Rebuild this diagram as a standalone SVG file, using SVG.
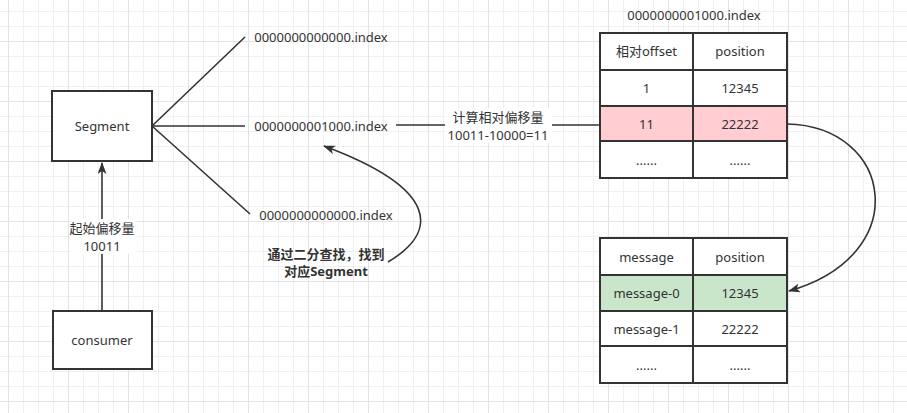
<svg xmlns="http://www.w3.org/2000/svg" width="907" height="413" viewBox="0 0 907 413">
<defs>
<pattern id="gMinor" x="8" y="11" width="15" height="15" patternUnits="userSpaceOnUse">
<rect x="0" y="0" width="1" height="15" fill="#f0f0f0"/>
<rect x="0" y="0" width="15" height="1" fill="#f0f0f0"/>
</pattern>
<pattern id="gMajor" x="8" y="41" width="60" height="60" patternUnits="userSpaceOnUse">
<rect x="0" y="0" width="1" height="60" fill="#e3e3e3"/>
<rect x="0" y="0" width="60" height="1" fill="#e3e3e3"/>
</pattern>
<marker id="arr" viewBox="0 0 12 9" refX="11" refY="4.5" markerWidth="12" markerHeight="9" orient="auto" markerUnits="userSpaceOnUse">
<path d="M12,4.5 L0,0 L3,4.5 L0,9 Z" fill="#333333"/>
</marker>
</defs>
<style>
text{font-family:"Noto Sans","Noto Sans CJK SC",sans-serif;font-size:13px;fill:#333333;text-anchor:middle;dominant-baseline:central}
.b{font-weight:bold}
.box{fill:#ffffff;stroke:#333333;stroke-width:2}
.cell{stroke:#333333;stroke-width:2}
.ln{fill:none;stroke:#333333;stroke-width:1.6}
</style>
<rect width="907" height="413" fill="#ffffff"/>
<rect width="907" height="413" fill="url(#gMinor)"/>
<rect width="907" height="413" fill="url(#gMajor)"/>

<g id="connectors">
<path class="ln" d="M152,126 L245,37"/>
<path class="ln" d="M152,126 L245,126"/>
<path class="ln" d="M152,126 L250,214"/>
<path class="ln" d="M396,125 L600,125"/>
<path class="ln" d="M102,311 L102,163" marker-end="url(#arr)"/>
<path class="ln" d="M787,124 C893,126 915,255 789,291" marker-end="url(#arr)"/>
<path class="ln" d="M388,262 C437,233 442,190 324,146" marker-end="url(#arr)"/>
<rect x="70" y="219" width="66" height="35" fill="#ffffff"/>
<text x="102" y="228">起始偏移量<tspan x="102" dy="18">10011</tspan></text>
<rect x="445" y="108" width="107" height="35" fill="#ffffff"/>
<text x="498" y="117">计算相对偏移量<tspan x="498" dy="18">10011-10000=11</tspan></text>
<text class="b" x="326" y="254">通过二分查找，找到<tspan x="326" dy="17">对应Segment</tspan></text>
</g>

<g id="segment">
<rect class="box" x="52" y="91" width="100" height="70"/>
<text x="102" y="126">Segment</text>
</g>
<g id="consumer">
<rect class="box" x="53" y="311" width="99" height="58"/>
<text x="102" y="340">consumer</text>
</g>

<g id="index0">
<text x="321" y="37">0000000000000.index</text>
</g>
<g id="index1000">
<text x="321" y="126">0000000001000.index</text>
</g>
<g id="index0b">
<text x="326" y="215">0000000000000.index</text>
</g>

<g id="indexTable">
<text x="694" y="15">0000000001000.index</text>
<rect class="cell" x="600" y="33" width="93" height="37" fill="#ffffff"/>
<rect class="cell" x="693" y="33" width="94" height="37" fill="#ffffff"/>
<rect class="cell" x="600" y="70" width="93" height="36" fill="#ffffff"/>
<rect class="cell" x="693" y="70" width="94" height="36" fill="#ffffff"/>
<rect class="cell" x="600" y="106" width="93" height="35" fill="#ffcdd2"/>
<rect class="cell" x="693" y="106" width="94" height="35" fill="#ffcdd2"/>
<rect class="cell" x="600" y="141" width="93" height="37" fill="#ffffff"/>
<rect class="cell" x="693" y="141" width="94" height="37" fill="#ffffff"/>
<text x="646.5" y="51">相对offset</text>
<text x="740" y="51">position</text>
<text x="646.5" y="88">1</text>
<text x="740" y="88">12345</text>
<text x="646.5" y="124">11</text>
<text x="740" y="124">22222</text>
<text x="646.5" y="160">......</text>
<text x="740" y="160">......</text>
</g>

<g id="logTable">
<rect class="cell" x="600" y="238" width="93" height="37" fill="#ffffff"/>
<rect class="cell" x="693" y="238" width="94" height="37" fill="#ffffff"/>
<rect class="cell" x="600" y="275" width="93" height="36" fill="#c9e6cb"/>
<rect class="cell" x="693" y="275" width="94" height="36" fill="#c9e6cb"/>
<rect class="cell" x="600" y="311" width="93" height="35" fill="#ffffff"/>
<rect class="cell" x="693" y="311" width="94" height="35" fill="#ffffff"/>
<rect class="cell" x="600" y="346" width="93" height="37" fill="#ffffff"/>
<rect class="cell" x="693" y="346" width="94" height="37" fill="#ffffff"/>
<text x="646.5" y="256.5">message</text>
<text x="740" y="256.5">position</text>
<text x="646.5" y="293">message-0</text>
<text x="740" y="293">12345</text>
<text x="646.5" y="328.5">message-1</text>
<text x="740" y="328.5">22222</text>
<text x="646.5" y="364.5">......</text>
<text x="740" y="364.5">......</text>
</g>
</svg>
